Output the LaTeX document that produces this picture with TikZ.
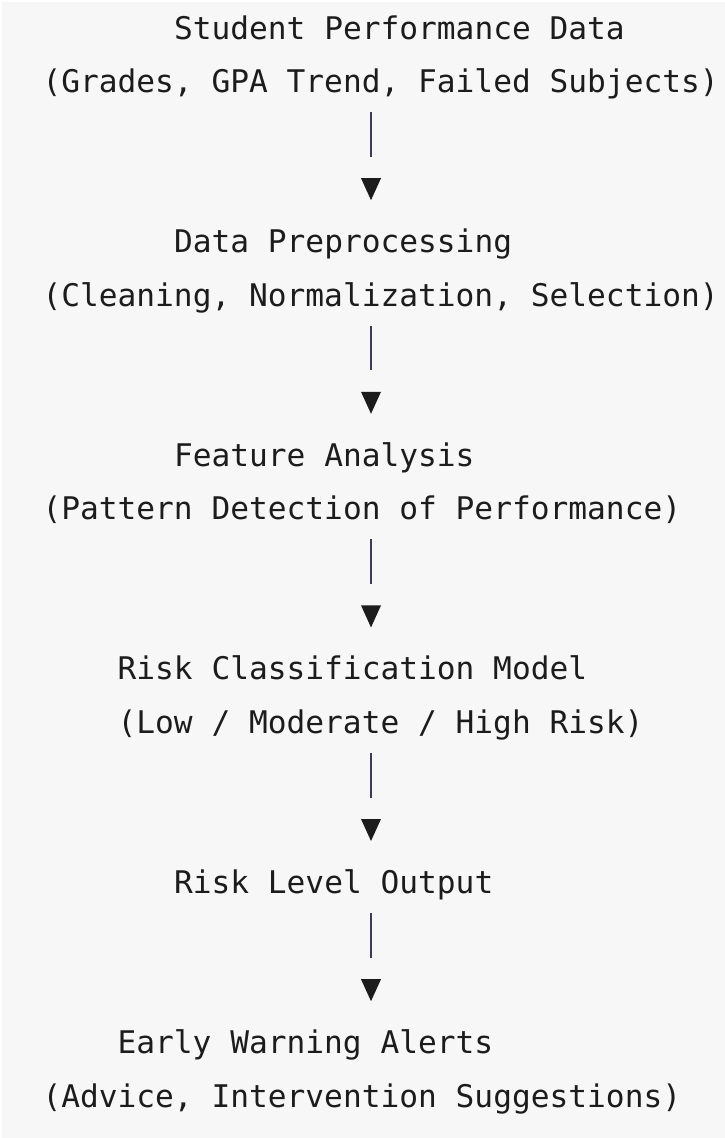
\documentclass[tikz,border=0pt]{standalone}
\usepackage{fontspec}
\setmonofont{DejaVu Sans Mono}
\definecolor{pagebg}{HTML}{F7F7F7}
\definecolor{ink}{HTML}{1C1C1C}
\definecolor{barink}{HTML}{3A3A5A}
\tikzset{
  codeline/.style={anchor=base west, inner sep=0pt, outer sep=0pt, text=ink,
    font=\ttfamily\fontsize{31.2}{53.4}\selectfont},
  stem/.style={draw=barink, line width=1.7pt},
  tip/.style={fill=ink}
}
% one flow step: vertical stem from #1 to #2, then a solid down-pointing tip whose top is at #3
\newcommand{\flowdrop}[3]{%
  \coordinate (#1s) at (371,#2);
  \coordinate (#1e) at (371,#2+44.8);
  \draw[stem] (#1s) -- (#1e);
  \coordinate (#1t) at (371,#3);
  \fill[tip] (#1t) ++(-10,0) -- ++(20,0) -- ++(-10,22) -- cycle;
}
\begin{document}
\begin{tikzpicture}[x=1pt, y=-1pt]
  \useasboundingbox (0,0) rectangle (725,1138);
  \fill[white] (0,0) rectangle (725,1138);
  \fill[pagebg] (2,2) rectangle (725,1138);

  % stage texts, one node per line (column pitch 18.78, row pitch 53.4)
  \node[codeline] (n1a) at (174.0,39)    {Student Performance Data};
  \node[codeline] (n1b) at (42.5,92.4)   {(Grades, GPA Trend, Failed Subjects)};
  \node[codeline] (n2a) at (174.0,252.6) {Data Preprocessing};
  \node[codeline] (n2b) at (42.5,306)    {(Cleaning, Normalization, Selection)};
  \node[codeline] (n3a) at (174.0,466.2) {Feature Analysis};
  \node[codeline] (n3b) at (42.5,519.6)  {(Pattern Detection of Performance)};
  \node[codeline] (n4a) at (117.6,679.8) {Risk Classification Model};
  \node[codeline] (n4b) at (117.6,733.2) {(Low / Moderate / High Risk)};
  \node[codeline] (n5a) at (174.0,893.4) {Risk Level Output};
  \node[codeline] (n6a) at (117.6,1053.6){Early Warning Alerts};
  \node[codeline] (n6b) at (42.5,1107)   {(Advice, Intervention Suggestions)};

  % connectors between the stages
  \flowdrop{a1}{112}{178.2}
  \flowdrop{a2}{325.6}{391.8}
  \flowdrop{a3}{539.2}{605.4}
  \flowdrop{a4}{752.8}{819}
  \flowdrop{a5}{913}{979.2}
\end{tikzpicture}
\end{document}
